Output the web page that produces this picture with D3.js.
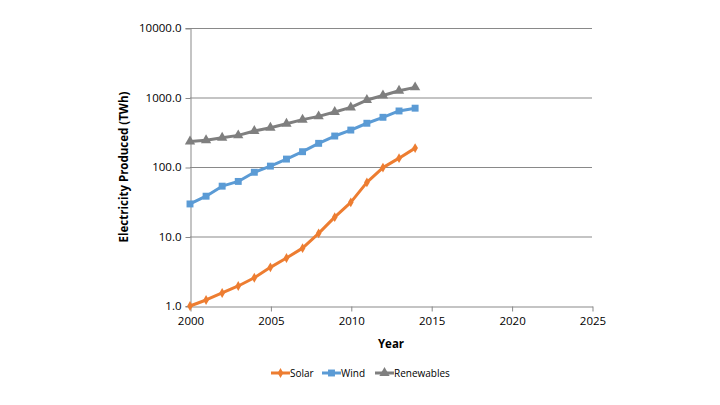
<!DOCTYPE html>
<html>
<head>
<meta charset="utf-8">
<script src="https://cdn.jsdelivr.net/npm/d3@7"></script>
<style>
  body { margin: 0; background: #fff; }
  text { font-family: "Open Sans", "Noto Sans", sans-serif; }
</style>
</head>
<body>
<svg id="chart" width="720" height="405" viewBox="0 0 720 405"></svg>
<script>
// values (TWh)
const years = [2000, 2001, 2002, 2003, 2004, 2005, 2006, 2007, 2008, 2009, 2010, 2011, 2012, 2013, 2014];
const solar = [1.0, 1.22, 1.54, 1.94, 2.55, 3.6, 4.9, 6.8, 11.1, 19, 31, 60, 98, 134, 187];
const wind = [29.4, 38, 53, 62, 84, 103, 130, 166, 219, 279, 340, 426, 519, 640, 702];
const renewables = [233, 242, 264, 285, 330, 367, 420, 480, 535, 618, 720, 920, 1070, 1250, 1400];
const xTicks = [2000, 2005, 2010, 2015, 2020, 2025];
const yTicks = [1, 10, 100, 1000, 10000];

const series = [
    {name: "Solar", values: solar, color: "#ED7D31", marker: d3.symbolDiamond, size: 28},
    {name: "Wind", values: wind, color: "#5B9BD5", marker: d3.symbolSquare, size: 48},
    {name: "Renewables", values: renewables, color: "#7F7F7F", marker: d3.symbolTriangle, size: 46}
];

const svg = d3.select("#chart");
const margin = {left: 190, right: 128, top: 28, bottom: 99};
const width = 720 - margin.left - margin.right,
    height = 405 - margin.top - margin.bottom;
const gridColor = "#898989";

const x = d3.scaleLinear().domain([2000, 2025]).range([0, width]);
const y = d3.scaleLog().domain([1, 10000]).range([height, 0]);

const g = svg.append("g")
    .attr("transform", `translate(${margin.left},${margin.top})`);

// horizontal gridlines
g.append("g")
    .selectAll("line")
    .data(yTicks.slice(1))
    .enter()
    .append("line")
    .attr("x1", 0)
    .attr("x2", width)
    .attr("y1", d => y(d) + 0.5)
    .attr("y2", d => y(d) + 0.5)
    .attr("stroke", gridColor)
    .attr("stroke-width", 1);

// y axis
const yAxis = g.append("g")
    .attr("transform", "translate(0.5,0)")
    .call(d3.axisLeft(y).tickValues(yTicks).tickFormat(d3.format(".1f")).tickSize(5).tickPadding(4));
yAxis.select(".domain").attr("stroke", gridColor);
yAxis.selectAll(".tick line").attr("stroke", gridColor).attr("transform", "translate(0,0.5)");
yAxis.selectAll(".tick text").attr("font-size", 11.5).attr("fill", "#000")
    .attr("font-family", "'Open Sans', sans-serif");

// x axis
const xAxis = g.append("g")
    .attr("transform", `translate(0.5,${height + 0.5})`)
    .call(d3.axisBottom(x).tickValues(xTicks).tickFormat(d3.format("d")).tickSize(5).tickSizeOuter(0).tickPadding(5));
xAxis.select(".domain").attr("stroke", gridColor);
xAxis.selectAll(".tick line").attr("stroke", gridColor);
xAxis.selectAll(".tick text").attr("font-size", 11.5).attr("fill", "#000")
    .attr("font-family", "'Open Sans', sans-serif");

// axis titles
g.append("text")
    .attr("x", width / 2)
    .attr("y", height + 42)
    .attr("text-anchor", "middle")
    .attr("font-size", 11.5)
    .attr("font-weight", "bold")
    .text("Year");

g.append("text")
    .attr("transform", `translate(${-62},${height / 2}) rotate(-90)`)
    .attr("text-anchor", "middle")
    .attr("font-size", 11.5)
    .attr("font-weight", "bold")
    .text("Electricity Produced (TWh)");

// lines + markers
const line = d3.line()
    .x((d, i) => x(years[i]))
    .y(d => y(d));

series.forEach(s => {
    g.append("path")
        .datum(s.values)
        .attr("fill", "none")
        .attr("stroke", s.color)
        .attr("stroke-width", 3)
        .attr("stroke-linejoin", "round")
        .attr("d", line);
    g.append("g")
        .selectAll("path")
        .data(s.values)
        .enter()
        .append("path")
        .attr("transform", (d, i) => `translate(${x(years[i])},${y(d)})`)
        .attr("d", d3.symbol().type(s.marker).size(s.size))
        .attr("fill", s.color);
});

// legend
const legendX = [271, 322, 375];
const legend = svg.append("g").attr("transform", "translate(0,373)");
series.forEach((s, i) => {
    const lg = legend.append("g").attr("transform", `translate(${legendX[i]},0)`);
    lg.append("line")
        .attr("x1", 0).attr("x2", 19)
        .attr("stroke", s.color).attr("stroke-width", 3);
    lg.append("path")
        .attr("transform", "translate(9.5,0)")
        .attr("d", d3.symbol().type(s.marker).size(s.size))
        .attr("fill", s.color);
    lg.append("text")
        .attr("x", 19)
        .attr("y", 4)
        .attr("font-size", 10)
        .text(s.name);
});
</script>
</body>
</html>
